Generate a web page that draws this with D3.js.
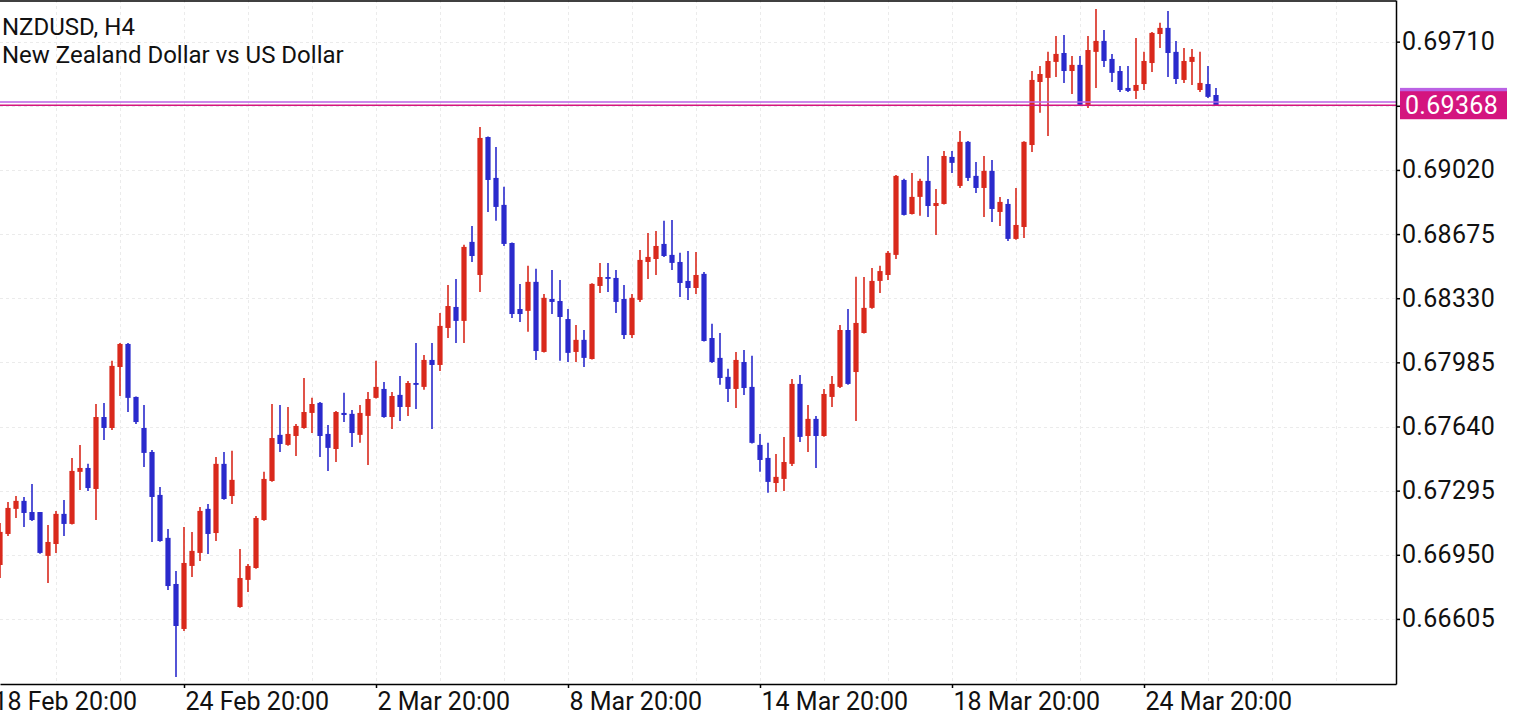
<!DOCTYPE html>
<html><head><meta charset="utf-8">
<script src="https://cdn.jsdelivr.net/npm/d3@7"></script>
<style>
html,body{margin:0;padding:0;background:#fff;}
svg{display:block;font-family:Roboto,"Noto Sans",sans-serif;}
</style></head><body>
<svg id="chart" width="1526" height="720"></svg>
<script>
const symbolTitle = "NZDUSD, H4";
const symbolDesc = "New Zealand Dollar vs US Dollar";

const opens = [0.66895,0.67062,0.67197,0.67240,0.67180,0.67180,0.66944,0.67008,0.67170,0.67116,
0.67396,0.67417,0.67304,0.67691,0.67632,0.67960,0.68084,0.67799,0.67632,0.67503,
0.67272,0.67041,0.66793,0.66551,0.66890,0.66960,0.67197,0.67067,0.67439,0.67266,
0.66669,0.66815,0.66879,0.67137,0.67347,0.67595,0.67541,0.67589,0.67632,0.67713,
0.67767,0.67600,0.67519,0.67713,0.67708,0.67595,0.67697,0.67794,0.67842,0.67691,
0.67810,0.67745,0.67874,0.67853,0.67998,0.67971,0.68170,0.68283,0.68208,0.68633,
0.68455,0.69197,0.68977,0.68832,0.68627,0.68272,0.68262,0.68418,0.68041,0.68326,
0.68315,0.68218,0.68041,0.68106,0.68003,0.68396,0.68444,0.68439,0.68326,0.68132,
0.68321,0.68525,0.68541,0.68622,0.68563,0.68525,0.68423,0.68385,0.68461,0.68116,
0.68009,0.67907,0.67842,0.67987,0.67853,0.67541,0.67471,0.67336,0.67358,0.67439,
0.67869,0.67589,0.67681,0.67589,0.67799,0.67853,0.68159,0.67933,0.68143,0.68278,
0.68423,0.68455,0.68563,0.68966,0.68783,0.68875,0.68961,0.68826,0.68837,0.69090,
0.68934,0.69171,0.68988,0.68923,0.69015,0.68794,0.68837,0.68649,0.68713,0.69154,
0.69493,0.69515,0.69601,0.69649,0.69552,0.69585,0.69370,0.69655,0.69714,0.69617,
0.69552,0.69461,0.69445,0.69482,0.69595,0.69751,0.69784,0.69655,0.69504,0.69601,
0.69450,0.69482,0.69423];

const highs = [0.67121,0.67234,0.67266,0.67261,0.67331,0.67180,0.67110,0.67186,0.67245,0.67471,
0.67541,0.67439,0.67761,0.67767,0.67993,0.68089,0.68089,0.67802,0.67756,0.67514,
0.67315,0.67089,0.66863,0.67100,0.67073,0.67207,0.67223,0.67476,0.67503,0.67509,
0.66981,0.66901,0.67159,0.67396,0.67761,0.67756,0.67745,0.67654,0.67901,0.67794,
0.67772,0.67648,0.67724,0.67821,0.67729,0.67756,0.67826,0.67993,0.67880,0.67826,
0.67912,0.67885,0.68089,0.68025,0.68089,0.68251,0.68401,0.68434,0.68617,0.68719,
0.69251,0.69200,0.69144,0.68929,0.68630,0.68407,0.68504,0.68488,0.68353,0.68482,
0.68428,0.68272,0.68186,0.68159,0.68410,0.68520,0.68520,0.68482,0.68401,0.68353,
0.68590,0.68681,0.68692,0.68746,0.68751,0.68574,0.68584,0.68579,0.68471,0.68192,
0.68143,0.67950,0.68041,0.68052,0.68020,0.67600,0.67552,0.67492,0.67584,0.67896,
0.67917,0.67756,0.67697,0.67842,0.67912,0.68186,0.68272,0.68445,0.68444,0.68493,
0.68504,0.68584,0.68993,0.68972,0.69004,0.68972,0.69095,0.68918,0.69122,0.69122,
0.69230,0.69176,0.69063,0.69095,0.69074,0.68875,0.68864,0.68923,0.69174,0.69552,
0.69579,0.69655,0.69741,0.69746,0.69633,0.69633,0.69741,0.69886,0.69773,0.69644,
0.69579,0.69579,0.69730,0.69655,0.69762,0.69811,0.69875,0.69714,0.69676,0.69671,
0.69655,0.69579,0.69461];

const lows = [0.66825,0.67051,0.67148,0.67100,0.67132,0.66955,0.66798,0.66960,0.67051,0.67113,
0.67299,0.67293,0.67137,0.67568,0.67621,0.67804,0.67718,0.67654,0.67422,0.67019,
0.67020,0.66761,0.66293,0.66540,0.66831,0.66917,0.66954,0.67024,0.67246,0.67223,
0.66665,0.66750,0.66875,0.67133,0.67343,0.67503,0.67537,0.67482,0.67628,0.67605,
0.67476,0.67401,0.67449,0.67664,0.67530,0.67552,0.67433,0.67790,0.67687,0.67627,
0.67670,0.67697,0.67734,0.67837,0.67627,0.67939,0.68116,0.68089,0.68089,0.68525,
0.68364,0.68794,0.68746,0.68611,0.68224,0.68202,0.68149,0.67998,0.68038,0.68245,
0.67993,0.67987,0.67987,0.67960,0.68000,0.68358,0.68364,0.68251,0.68111,0.68116,
0.68310,0.68434,0.68455,0.68552,0.68482,0.68337,0.68321,0.68353,0.68097,0.67982,
0.67864,0.67772,0.67740,0.67810,0.67548,0.67396,0.67283,0.67288,0.67293,0.67428,
0.67557,0.67503,0.67417,0.67585,0.67745,0.67847,0.67865,0.67670,0.68140,0.68274,
0.68358,0.68428,0.68541,0.68775,0.68780,0.68773,0.68767,0.68670,0.68834,0.69004,
0.68923,0.68961,0.68896,0.68767,0.68740,0.68719,0.68638,0.68645,0.68654,0.69117,
0.69327,0.69203,0.69520,0.69488,0.69429,0.69366,0.69353,0.69461,0.69574,0.69493,
0.69439,0.69439,0.69402,0.69450,0.69547,0.69676,0.69520,0.69482,0.69488,0.69477,
0.69439,0.69407,0.69364];

const closes = [0.67073,0.67202,0.67240,0.67175,0.67137,0.66960,0.67019,0.67170,0.67116,0.67401,
0.67417,0.67309,0.67691,0.67632,0.67966,0.68084,0.67794,0.67664,0.67498,0.67261,
0.67024,0.66782,0.66567,0.66906,0.66971,0.67186,0.67062,0.67439,0.67250,0.67353,
0.66825,0.66890,0.67148,0.67358,0.67578,0.67546,0.67600,0.67643,0.67718,0.67761,
0.67589,0.67525,0.67718,0.67702,0.67605,0.67713,0.67788,0.67853,0.67691,0.67804,
0.67745,0.67874,0.67864,0.67998,0.67971,0.68181,0.68288,0.68208,0.68606,0.68557,
0.69192,0.68966,0.68821,0.68622,0.68245,0.68245,0.68418,0.68046,0.68332,0.68310,
0.68229,0.68036,0.68106,0.68009,0.68407,0.68444,0.68434,0.68310,0.68132,0.68332,
0.68536,0.68552,0.68611,0.68557,0.68520,0.68412,0.68385,0.68455,0.68100,0.67987,
0.67901,0.67842,0.67998,0.67847,0.67552,0.67460,0.67342,0.67369,0.67449,0.67869,
0.67584,0.67681,0.67589,0.67815,0.67869,0.68159,0.67869,0.68197,0.68278,0.68423,
0.68476,0.68574,0.68988,0.68778,0.68875,0.68961,0.68826,0.68842,0.69095,0.69058,
0.69171,0.68977,0.68923,0.69015,0.68810,0.68848,0.68649,0.68724,0.69171,0.69504,
0.69536,0.69606,0.69644,0.69552,0.69585,0.69370,0.69665,0.69714,0.69606,0.69542,
0.69450,0.69445,0.69477,0.69606,0.69757,0.69784,0.69649,0.69509,0.69606,0.69628,
0.69488,0.69413,0.69368];

const priceTicks = [0.66605,0.66950,0.67295,0.67640,0.67985,0.68330,0.68675,0.69020,0.69365,0.69710];
const dateTickIndex = [-1,23,47,71,95,119,143];
const dateTickLabels = ["18 Feb 20:00","24 Feb 20:00","2 Mar 20:00","8 Mar 20:00","14 Mar 20:00","18 Mar 20:00","24 Mar 20:00"];
const bidPrice = 0.69368;
const askPrice = 0.69386;

const W = 1526, H = 720;
const plotR = 1396, plotB = 684;
const bullColor = "#d9291c", bearColor = "#2a2acc";
const bidColor = "#d4157f", askColor = "#bb62e4";
const axisFont = 25;

const svg = d3.select("#chart");
svg.append("rect").attr("width",W).attr("height",H).attr("fill","#fff");

const x = d3.scaleLinear().domain([0,174.5]).range([0,plotR]);
const y = d3.scaleLinear().domain([0.66255,0.69934]).range([plotB,0]);

// grid
const grid = svg.append("g").attr("stroke","#ebebeb").attr("stroke-width",1).attr("stroke-dasharray","3,3");
grid.selectAll("line.h").data(priceTicks).join("line").attr("class","h")
  .attr("x1",0).attr("x2",plotR).attr("y1",d=>Math.round(y(d))+0.5).attr("y2",d=>Math.round(y(d))+0.5);
grid.selectAll("line.v").data(d3.range(7,175,8)).join("line").attr("class","v")
  .attr("x1",d=>x(d)+0.5).attr("x2",d=>x(d)+0.5).attr("y1",0).attr("y2",plotB);

// candles
const data = opens.map((o,i)=>({i,o,h:highs[i],l:lows[i],c:closes[i]}));
const cg = svg.append("g");
const candle = cg.selectAll("g").data(data).join("g");
candle.append("line")
  .attr("x1",d=>x(d.i)).attr("x2",d=>x(d.i))
  .attr("y1",d=>y(d.h)).attr("y2",d=>y(d.l))
  .attr("stroke",d=>d.c>=d.o?bullColor:bearColor).attr("stroke-width",1.6);
candle.append("rect")
  .attr("x",d=>x(d.i)-2.6).attr("width",5.2)
  .attr("y",d=>y(Math.max(d.o,d.c)))
  .attr("height",d=>Math.max(1.2,Math.abs(y(d.o)-y(d.c))))
  .attr("fill",d=>d.c>=d.o?bullColor:bearColor);

// bid / ask lines
svg.append("line").attr("x1",0).attr("x2",plotR).attr("y1",y(askPrice)).attr("y2",y(askPrice))
  .attr("stroke",askColor).attr("stroke-width",1.5);
svg.append("line").attr("x1",0).attr("x2",plotR).attr("y1",y(bidPrice)).attr("y2",y(bidPrice))
  .attr("stroke",bidColor).attr("stroke-width",1.5);

// top border
svg.append("line").attr("x1",0).attr("x2",plotR).attr("y1",1).attr("y2",1).attr("stroke","#000").attr("stroke-width",1.5);

// right axis
const fmt = d3.format(".5f");
const yAxis = d3.axisRight(y).tickValues(priceTicks).tickSize(4).tickSizeOuter(0)
  .tickFormat(d=> Math.abs(y(d)-y(bidPrice))<20 ? "" : fmt(d));
const ya = svg.append("g").attr("transform",`translate(${plotR},0)`).call(yAxis);
ya.select(".domain").attr("stroke","#000").attr("stroke-width",1.5);
ya.selectAll(".tick line").attr("stroke","#000").attr("stroke-width",1.5);
ya.selectAll(".tick text").attr("x",6).attr("fill","#111").attr("font-size",axisFont)
  .attr("font-family","Roboto").attr("letter-spacing","0.3");

// bottom axis
const xAxis = d3.axisBottom(x).tickValues(dateTickIndex).tickSize(4).tickSizeOuter(0)
  .tickFormat((d,i)=>dateTickLabels[i]);
const xa = svg.append("g").attr("transform",`translate(0,${plotB})`).call(xAxis);
xa.select(".domain").attr("stroke","#000").attr("stroke-width",1.5);
xa.selectAll(".tick line").attr("stroke","#000").attr("stroke-width",1.5);
xa.selectAll(".tick text").attr("text-anchor","start").attr("x",1).attr("y",26).attr("dy",0)
  .attr("fill","#111").attr("font-size",axisFont).attr("font-family","Roboto");

// price labels
svg.append("rect").attr("x",plotR+4).attr("width",107).attr("y",y(askPrice)-14).attr("height",28).attr("fill",askColor);
svg.append("rect").attr("x",plotR+4).attr("width",107).attr("y",y(bidPrice)-14).attr("height",28).attr("fill",bidColor);
svg.append("text").attr("x",plotR+9).attr("y",y(bidPrice)).attr("dy","0.35em")
  .attr("fill","#fff").attr("font-size",axisFont).attr("letter-spacing","0.3").text(fmt(bidPrice));

// title
svg.append("text").attr("x",2).attr("y",35).attr("font-size",24).attr("fill","#111").text(symbolTitle);
svg.append("text").attr("x",2).attr("y",63).attr("font-size",24).attr("fill","#111").text(symbolDesc);
</script>
</body></html>
